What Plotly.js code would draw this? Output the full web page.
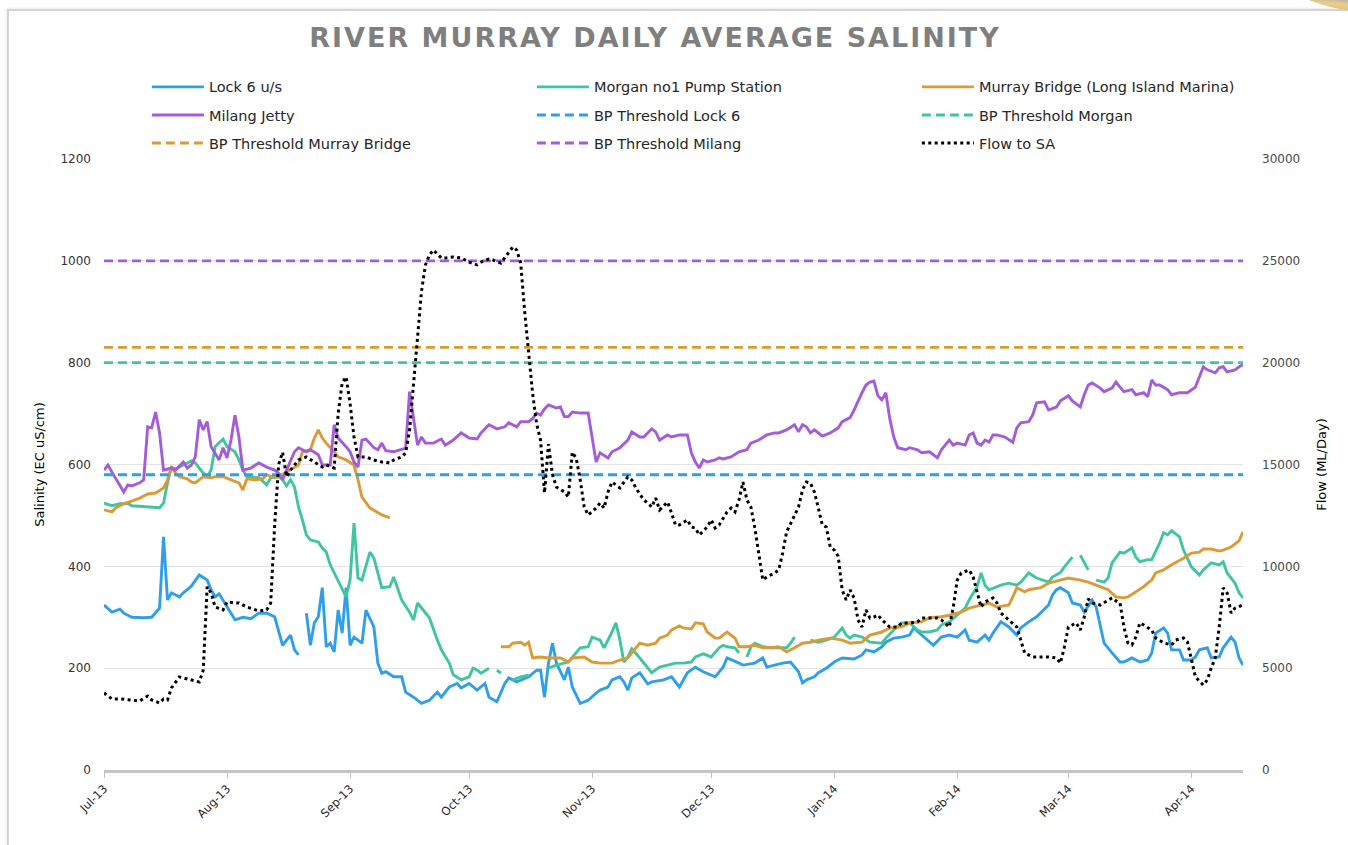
<!DOCTYPE html>
<html>
<head>
<meta charset="utf-8">
<script src="https://cdn.plot.ly/plotly-3.0.1.min.js"></script>
<style>
html,body{margin:0;padding:0;background:#fff;overflow:hidden;}
#frame{position:absolute;left:7px;top:9px;width:1400px;height:900px;border-left:2px solid #d4d4d4;border-top:2px solid #d4d4d4;box-shadow:-1px -1px 2px rgba(0,0,0,0.08);}
#deco{position:absolute;left:1282px;top:-34px;width:130px;height:44px;border-radius:50%;background:linear-gradient(175deg,#2f3f8f 0%,#6b66b5 45%,#9c8fc4 62%,#e7cf8c 80%,#d9b870 100%);transform:rotate(10deg);}
#chart{position:absolute;left:0;top:0;width:1348px;height:845px;}
.gtitle{letter-spacing:2px;}
</style>
</head>
<body>
<div id="frame"></div>
<div id="deco"></div>
<div id="chart"></div>
<script>
// ---------------- DATA (month-day, value); Jul-Dec = 2013, Jan-Apr = 2014 ----------------
const lock6 = [["07-01",324],["07-03",310],["07-05",316],["07-06",308],["07-08",300],["07-11",299],["07-13",300],["07-15",318],["07-16",458],["07-17",334],["07-18",348],["07-20",340],["07-21",348],["07-23",361],["07-25",383],["07-27",373],["07-28",354],["07-29",340],["07-30",346],["08-01",320],["08-03",295],["08-05",300],["08-07",297],["08-09",308],["08-11",308],["08-13",301],["08-15",245],["08-17",265],["08-18",236],["08-19",226],["08-20",null],["08-21",308],["08-22",245],["08-23",289],["08-24",301],["08-25",358],["08-26",242],["08-27",249],["08-28",232],["08-29",314],["08-30",269],["08-31",358],["09-01",245],["09-02",261],["09-04",249],["09-05",314],["09-07",281],["09-08",210],["09-09",190],["09-10",193],["09-12",183],["09-14",183],["09-15",153],["09-17",143],["09-19",131],["09-21",137],["09-23",153],["09-24",143],["09-26",163],["09-28",170],["09-29",161],["10-01",170],["10-03",157],["10-05",170],["10-06",143],["10-08",134],["10-10",170],["10-11",181],["10-13",173],["10-16",183],["10-18",196],["10-19",196],["10-20",143],["10-21",210],["10-22",249],["10-23",210],["10-25",177],["10-26",202],["10-27",163],["10-29",131],["10-31",137],["11-02",151],["11-03",157],["11-05",163],["11-06",177],["11-08",183],["11-09",173],["11-10",157],["11-11",181],["11-13",191],["11-15",169],["11-16",173],["11-19",177],["11-21",183],["11-23",163],["11-25",191],["11-27",202],["11-29",193],["12-02",183],["12-04",202],["12-05",220],["12-08",210],["12-09",206],["12-12",210],["12-14",220],["12-15",202],["12-17",206],["12-19",210],["12-21",212],["12-23",193],["12-24",171],["12-25",177],["12-27",183],["12-28",191],["12-30",200],["01-01",212],["01-03",220],["01-06",218],["01-08",226],["01-09",236],["01-11",232],["01-13",242],["01-14",251],["01-16",259],["01-18",261],["01-20",265],["01-21",279],["01-23",265],["01-24",259],["01-26",245],["01-28",261],["01-30",265],["02-01",261],["02-03",275],["02-04",255],["02-06",251],["02-08",265],["02-09",255],["02-10",269],["02-12",291],["02-14",281],["02-16",265],["02-17",279],["02-19",291],["02-21",301],["02-24",324],["02-25",344],["02-26",354],["02-27",358],["03-01",348],["03-02",328],["03-04",324],["03-05",310],["03-07",334],["03-08",320],["03-09",281],["03-10",249],["03-12",230],["03-14",212],["03-15",212],["03-17",220],["03-19",212],["03-21",216],["03-22",230],["03-23",269],["03-25",279],["03-26",269],["03-27",236],["03-29",236],["03-30",216],["04-01",216],["04-02",222],["04-03",236],["04-05",240],["04-06",220],["04-08",222],["04-09",240],["04-11",261],["04-12",251],["04-13",220],["04-14",206]];

const morgan = [["07-01",524],["07-03",519],["07-05",523],["07-07",524],["07-08",519],["07-11",517],["07-13",517],["07-15",515],["07-16",524],["07-17",564],["07-18",595],["07-19",591],["07-21",599],["07-23",607],["07-24",603],["07-26",583],["07-27",576],["07-28",589],["07-29",635],["07-31",650],["08-01",635],["08-03",625],["08-04",609],["08-05",589],["08-06",576],["08-08",574],["08-09",574],["08-11",560],["08-12",574],["08-14",576],["08-15",570],["08-16",558],["08-17",570],["08-18",556],["08-19",517],["08-20",491],["08-21",462],["08-22",452],["08-24",448],["08-25",436],["08-26",428],["08-27",403],["08-29",373],["08-30",358],["08-31",340],["09-01",373],["09-02",485],["09-03",377],["09-04",373],["09-06",428],["09-07",416],["09-09",358],["09-11",360],["09-12",379],["09-14",334],["09-16",310],["09-17",295],["09-18",328],["09-20",308],["09-21",299],["09-23",255],["09-24",236],["09-26",210],["09-27",187],["09-29",177],["10-01",183],["10-02",200],["10-03",196],["10-04",190],["10-06",200],["10-07",null],["10-08",196],["10-09",190],["10-10",null],["10-12",177],["10-14",183],["10-16",186],["10-18",null],["10-21",200],["10-23",206],["10-26",212],["10-27",222],["10-29",240],["10-31",242],["11-01",261],["11-03",255],["11-04",240],["11-06",271],["11-07",289],["11-08",255],["11-09",212],["11-10",222],["11-11",238],["11-13",220],["11-15",202],["11-16",191],["11-18",202],["11-20",206],["11-22",210],["11-24",210],["11-26",212],["11-27",222],["11-29",228],["12-01",222],["12-03",240],["12-04",245],["12-05",242],["12-07",240],["12-08",230],["12-09",null],["12-10",222],["12-11",242],["12-12",249],["12-14",242],["12-16",240],["12-18",240],["12-20",240],["12-21",249],["12-22",261],["12-23",null],["12-26",255],["12-28",251],["12-30",255],["01-01",261],["01-03",279],["01-04",265],["01-05",259],["01-06",265],["01-08",261],["01-10",251],["01-13",249],["01-14",259],["01-16",275],["01-18",289],["01-20",289],["01-22",275],["01-23",271],["01-25",271],["01-27",275],["01-28",285],["01-30",291],["02-01",304],["02-03",318],["02-04",334],["02-06",360],["02-07",387],["02-08",363],["02-09",354],["02-11",360],["02-12",363],["02-14",367],["02-16",363],["02-17",369],["02-19",387],["02-21",377],["02-24",369],["02-25",379],["02-27",388],["02-28",399],["03-02",418],["03-03",null],["03-04",422],["03-05",407],["03-06",393],["03-07",null],["03-08",373],["03-10",369],["03-11",377],["03-12",407],["03-14",428],["03-15",426],["03-17",436],["03-18",418],["03-19",409],["03-21",413],["03-22",413],["03-24",446],["03-25",466],["03-26",462],["03-27",470],["03-29",458],["03-30",432],["04-01",399],["04-03",383],["04-04",393],["04-06",407],["04-08",403],["04-09",409],["04-10",387],["04-12",367],["04-13",348],["04-14",338]];

const murrayBridge = [["07-01",511],["07-03",507],["07-04",515],["07-06",523],["07-08",528],["07-10",534],["07-12",542],["07-14",544],["07-16",554],["07-17",570],["07-18",595],["07-19",583],["07-20",576],["07-22",572],["07-23",566],["07-24",564],["07-26",576],["07-28",574],["07-29",576],["07-31",576],["08-02",570],["08-04",564],["08-05",550],["08-06",572],["08-08",570],["08-10",572],["08-11",580],["08-13",574],["08-14",576],["08-16",585],["08-17",589],["08-19",599],["08-20",625],["08-22",629],["08-23",652],["08-24",668],["08-25",652],["08-26",642],["08-28",625],["08-29",615],["08-31",609],["09-02",599],["09-03",570],["09-04",536],["09-06",515],["09-08",505],["09-09",501],["09-11",495],["09-12",null],["10-09",242],["10-11",242],["10-12",249],["10-14",251],["10-15",245],["10-16",251],["10-17",220],["10-19",222],["10-21",220],["10-24",220],["10-26",212],["10-27",220],["10-30",222],["11-01",212],["11-03",210],["11-06",210],["11-08",216],["11-10",220],["11-12",240],["11-13",249],["11-15",245],["11-17",249],["11-18",259],["11-20",265],["11-21",275],["11-23",283],["11-24",279],["11-26",277],["11-27",289],["11-29",287],["11-30",271],["12-02",259],["12-03",259],["12-05",271],["12-07",259],["12-08",242],["12-10",242],["12-12",245],["12-14",240],["12-16",240],["12-18",242],["12-20",232],["12-22",240],["12-24",249],["12-26",251],["12-28",255],["12-31",259],["01-03",255],["01-05",249],["01-08",251],["01-10",265],["01-13",271],["01-15",279],["01-18",281],["01-20",289],["01-23",291],["01-25",299],["01-28",301],["01-30",304],["02-02",310],["02-04",318],["02-07",324],["02-09",328],["02-11",320],["02-14",324],["02-15",340],["02-16",358],["02-18",350],["02-19",354],["02-22",358],["02-24",367],["02-25",369],["02-27",373],["03-01",377],["03-04",373],["03-06",369],["03-08",363],["03-10",358],["03-11",354],["03-13",340],["03-15",338],["03-16",340],["03-18",350],["03-20",360],["03-21",367],["03-22",373],["03-23",387],["03-25",393],["03-27",403],["03-28",407],["03-30",416],["04-01",426],["04-03",428],["04-04",434],["04-06",434],["04-08",430],["04-09",432],["04-11",438],["04-13",450],["04-14",468]];

const milang = [["07-01",589],["07-02",599],["07-03",585],["07-05",560],["07-06",546],["07-07",560],["07-08",558],["07-10",564],["07-11",570],["07-12",674],["07-13",672],["07-14",703],["07-15",662],["07-16",589],["07-18",593],["07-19",589],["07-21",605],["07-22",593],["07-23",599],["07-24",615],["07-25",688],["07-26",668],["07-27",684],["07-28",635],["07-30",609],["07-31",633],["08-01",613],["08-02",648],["08-03",697],["08-04",654],["08-05",589],["08-07",593],["08-09",603],["08-11",595],["08-13",589],["08-14",583],["08-15",570],["08-16",589],["08-18",625],["08-19",633],["08-21",625],["08-22",629],["08-24",619],["08-25",599],["08-27",599],["08-28",678],["08-29",652],["08-31",635],["09-01",625],["09-02",605],["09-03",595],["09-04",648],["09-05",650],["09-07",633],["09-08",629],["09-09",642],["09-10",627],["09-12",625],["09-14",629],["09-15",632],["09-16",743],["09-17",694],["09-18",638],["09-19",654],["09-20",642],["09-22",642],["09-24",650],["09-25",638],["09-27",648],["09-29",662],["10-01",652],["10-03",650],["10-04",662],["10-06",678],["10-07",674],["10-08",670],["10-10",674],["10-11",682],["10-13",674],["10-14",684],["10-16",684],["10-17",690],["10-18",701],["10-19",697],["10-20",709],["10-21",717],["10-23",711],["10-24",713],["10-25",694],["10-26",694],["10-27",703],["10-29",701],["10-31",701],["11-01",654],["11-02",605],["11-03",623],["11-05",613],["11-06",625],["11-08",633],["11-10",648],["11-11",664],["11-13",654],["11-14",654],["11-16",670],["11-17",664],["11-18",648],["11-20",658],["11-21",654],["11-23",658],["11-25",658],["11-26",623],["11-27",605],["11-28",593],["11-29",609],["11-30",605],["12-02",609],["12-03",613],["12-04",611],["12-06",615],["12-08",625],["12-10",629],["12-11",642],["12-13",648],["12-15",658],["12-17",662],["12-18",662],["12-20",668],["12-22",678],["12-23",664],["12-24",678],["12-25",674],["12-26",662],["12-27",668],["12-29",656],["12-31",662],["01-02",672],["01-03",684],["01-05",692],["01-06",707],["01-08",741],["01-09",756],["01-10",762],["01-11",764],["01-12",735],["01-13",727],["01-14",741],["01-15",690],["01-16",654],["01-17",633],["01-19",629],["01-20",633],["01-22",629],["01-23",623],["01-25",625],["01-26",619],["01-27",613],["01-28",629],["01-30",648],["01-31",638],["02-01",642],["02-03",638],["02-04",658],["02-05",662],["02-06",642],["02-07",638],["02-08",648],["02-09",644],["02-10",658],["02-11",658],["02-13",654],["02-15",644],["02-16",672],["02-17",682],["02-19",684],["02-20",697],["02-21",721],["02-23",723],["02-24",707],["02-26",713],["02-27",725],["03-01",735],["03-02",725],["03-04",713],["03-05",737],["03-06",756],["03-07",760],["03-09",750],["03-10",743],["03-12",750],["03-13",762],["03-14",752],["03-15",743],["03-17",747],["03-18",737],["03-20",741],["03-21",733],["03-22",766],["03-23",756],["03-24",756],["03-26",747],["03-27",737],["03-29",741],["03-31",741],["04-02",752],["04-03",772],["04-04",792],["04-05",786],["04-07",780],["04-08",790],["04-09",792],["04-10",782],["04-12",786],["04-13",792],["04-14",796]];

const flowToSA = [["07-01",3780],["07-03",3490],["07-05",3490],["07-08",3440],["07-10",3390],["07-12",3630],["07-13",3440],["07-15",3290],["07-16",3490],["07-17",3440],["07-18",4030],["07-20",4570],["07-21",4520],["07-23",4420],["07-25",4320],["07-26",4900],["07-27",9000],["07-28",8690],["07-29",8000],["07-31",7860],["08-01",8250],["08-03",8200],["08-04",8200],["08-06",8000],["08-08",7860],["08-09",7810],["08-11",7860],["08-12",8200],["08-13",12000],["08-14",15000],["08-15",15600],["08-16",14400],["08-17",14730],["08-19",15220],["08-21",15370],["08-23",15120],["08-25",14880],["08-26",14980],["08-28",14830],["08-29",17500],["08-30",19000],["08-31",19300],["09-01",18000],["09-02",16350],["09-03",15370],["09-05",15370],["09-07",15220],["09-09",15120],["09-10",15120],["09-11",15070],["09-12",15220],["09-14",15370],["09-15",15560],["09-16",16690],["09-17",19000],["09-18",21600],["09-19",23500],["09-20",24800],["09-21",25290],["09-22",25530],["09-24",25140],["09-25",25140],["09-27",25190],["09-29",25140],["10-01",24940],["10-03",24800],["10-04",24940],["10-06",25090],["10-07",25040],["10-09",24890],["10-11",25430],["10-12",25680],["10-13",25530],["10-14",24890],["10-15",22500],["10-16",20500],["10-17",18500],["10-18",17000],["10-19",16200],["10-20",13600],["10-21",16000],["10-22",14500],["10-23",13890],["10-25",13650],["10-26",13400],["10-27",15600],["10-28",15300],["10-29",14240],["10-30",12910],["10-31",12520],["11-02",12860],["11-03",13110],["11-04",12860],["11-05",13650],["11-06",14140],["11-08",13850],["11-10",14390],["11-11",14240],["11-12",13850],["11-14",13260],["11-15",13110],["11-16",12910],["11-17",13350],["11-18",12770],["11-20",13160],["11-21",12620],["11-22",12030],["11-23",12030],["11-25",12280],["11-26",11930],["11-27",11880],["11-28",11540],["11-30",11930],["12-01",12280],["12-02",11880],["12-03",12030],["12-05",12670],["12-06",12860],["12-07",12670],["12-08",13260],["12-09",14140],["12-10",13260],["12-11",12910],["12-12",11880],["12-13",10650],["12-14",9330],["12-15",9480],["12-17",9670],["12-18",9820],["12-19",10650],["12-20",11690],["12-22",12520],["12-23",12910],["12-24",13750],["12-25",14140],["12-26",14090],["12-27",13650],["12-28",12860],["12-29",12030],["12-30",11930],["12-31",10950],["01-01",10800],["01-02",10500],["01-03",8840],["01-04",8350],["01-05",8840],["01-06",8450],["01-07",7370],["01-08",7020],["01-09",7860],["01-10",7460],["01-11",7510],["01-12",7610],["01-13",7370],["01-15",7020],["01-17",7020],["01-18",7220],["01-20",7220],["01-22",7270],["01-23",7460],["01-25",7460],["01-27",7460],["01-28",7370],["01-30",7020],["01-31",8000],["02-01",9330],["02-02",9670],["02-04",9820],["02-05",9480],["02-06",8690],["02-07",8000],["02-08",8250],["02-10",8450],["02-11",8200],["02-12",7710],["02-14",7370],["02-16",7020],["02-17",6380],["02-18",5740],["02-20",5550],["02-22",5550],["02-24",5550],["02-26",5500],["02-27",5250],["02-28",6040],["03-01",7020],["03-02",7120],["03-03",7220],["03-04",6870],["03-05",7510],["03-06",8400],["03-07",8200],["03-09",8100],["03-11",8350],["03-12",8450],["03-13",8300],["03-14",8200],["03-15",7020],["03-16",6240],["03-17",6140],["03-18",6530],["03-19",7220],["03-20",7120],["03-22",6870],["03-23",6480],["03-25",6240],["03-27",6140],["03-28",6380],["03-30",6480],["03-31",6290],["04-01",5400],["04-02",4570],["04-04",4170],["04-05",4420],["04-06",5010],["04-07",5500],["04-08",7000],["04-09",8940],["04-10",8690],["04-11",7710],["04-12",7950],["04-14",8100]];

// BP thresholds (EC uS/cm), drawn across the whole period
const thresholdDates = ["07-01","04-14"];
const bpLock6 = 580;
const bpMorgan = 800;
const bpMurrayBridge = 830;
const bpMilang = 1000;

const seriesNames = ["Lock 6 u/s","Morgan no1 Pump Station","Murray Bridge (Long Island Marina)","Milang Jetty",
  "BP Threshold Lock 6","BP Threshold Morgan","BP Threshold Murray Bridge","BP Threshold Milang","Flow to SA"];
const xTickFormat = "%b-%y";

// ---------------- BUILD ----------------
function toDate(md){ const m = parseInt(md.slice(0,2),10); return (m>=7?"2013-":"2014-")+md; }
const xs = a => a.map(p => toDate(p[0]));
const ys = a => a.map(p => p[1]);

const C = {blue:"#2f9fe9", green:"#3fc6a1", orange:"#dc9a37", purple:"#a45cd8"};
const FONT = "DejaVu Sans, Noto Sans, sans-serif";
const LW = 2.9;

const tx = thresholdDates.map(toDate);
const traces = [
  {x:xs(lock6), y:ys(lock6), name:seriesNames[0], line:{color:C.blue,width:LW}, legend:"legend"},
  {x:xs(morgan), y:ys(morgan), name:seriesNames[1], line:{color:C.green,width:LW}, legend:"legend"},
  {x:xs(murrayBridge), y:ys(murrayBridge), name:seriesNames[2], line:{color:C.orange,width:LW}, legend:"legend"},
  {x:xs(milang), y:ys(milang), name:seriesNames[3], line:{color:C.purple,width:LW}, legend:"legend2"},
  {x:tx, y:[bpLock6,bpLock6], name:seriesNames[4], line:{color:C.blue,width:LW,dash:"9px,5px"}, legend:"legend2"},
  {x:tx, y:[bpMorgan,bpMorgan], name:seriesNames[5], line:{color:C.green,width:LW,dash:"9px,5px"}, legend:"legend2"},
  {x:tx, y:[bpMurrayBridge,bpMurrayBridge], name:seriesNames[6], line:{color:C.orange,width:LW,dash:"9px,5px"}, legend:"legend3"},
  {x:tx, y:[bpMilang,bpMilang], name:seriesNames[7], line:{color:C.purple,width:LW,dash:"9px,5px"}, legend:"legend3"},
  {x:xs(flowToSA), y:ys(flowToSA), name:seriesNames[8], yaxis:"y2", line:{color:"#000000",width:3,dash:"3px,3.4px"}, legend:"legend3"}
].map(t => Object.assign({type:"scatter", mode:"lines", connectgaps:false, hoverinfo:"skip"}, t));

function leg(y){
  return {orientation:"h", x:-0.0001, xanchor:"left", y:y, yanchor:"middle", indentation:43,
    entrywidth:275, entrywidthmode:"pixels", itemwidth:52, traceorder:"normal",
    bgcolor:"rgba(0,0,0,0)", font:{family:FONT, size:14.5, color:"#262626"}, itemclick:false, itemdoubleclick:false};
}

const layout = {
  width:1348, height:845,
  margin:{l:104, r:105, t:159, b:75, pad:0},
  paper_bgcolor:"rgba(0,0,0,0)", plot_bgcolor:"rgba(0,0,0,0)",
  showlegend:true,
  title:{text:"RIVER MURRAY DAILY AVERAGE SALINITY", xref:"paper", x:0.4838, xanchor:"center",
    yref:"container", y:0.955, yanchor:"middle",
    font:{family:"DejaVu Sans, sans-serif", size:27, color:"#7f7f7f", weight:700}},
  xaxis:{type:"date", range:["2013-07-01","2014-04-14"], tick0:"2013-07-01", dtick:"M1", tickformat:xTickFormat,
    tickangle:-45, ticks:"outside", ticklen:5, tickcolor:"#bfbfbf", tickwidth:1,
    showline:true, linecolor:"#c4c4c4", linewidth:2.5, showgrid:false, zeroline:false,
    tickfont:{family:FONT, size:11.5, color:"#262626"}, fixedrange:true},
  yaxis:{range:[0,1200], dtick:200, showgrid:true, gridcolor:"#e3e3e3", gridwidth:1, zeroline:false,
    showline:false, ticks:"", ticklabelstandoff:12,
    tickfont:{family:FONT, size:12, color:"#333333"},
    title:{text:"Salinity (EC uS/cm)", standoff:12, font:{family:FONT, size:13, color:"#000"}}, fixedrange:true},
  yaxis2:{range:[0,30000], dtick:5000, tickformat:"d", overlaying:"y", side:"right", showgrid:false, zeroline:false,
    showline:false, ticks:"", ticklabelstandoff:18,
    tickfont:{family:FONT, size:12, color:"#4a4a4a"},
    title:{text:"Flow (ML/Day)", standoff:17, font:{family:FONT, size:13, color:"#000"}}, fixedrange:true},
  legend:leg(1.118), legend2:leg(1.072), legend3:leg(1.026),
  hovermode:false
};

Plotly.newPlot("chart", traces, layout, {displayModeBar:false, staticPlot:true});
</script>
</body>
</html>
